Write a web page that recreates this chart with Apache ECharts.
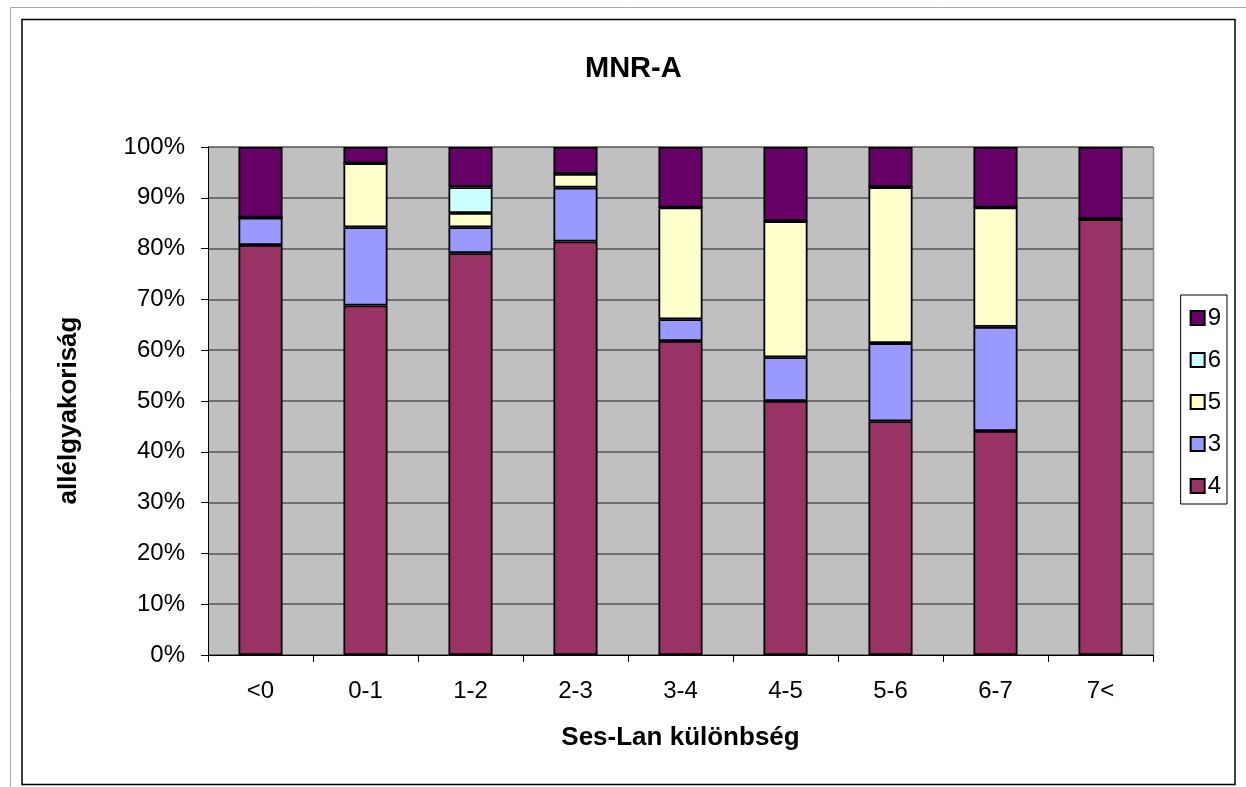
<!DOCTYPE html>
<html><head><meta charset="utf-8">
<script src="https://cdn.jsdelivr.net/npm/echarts@6/dist/echarts.min.js"></script>
<style>html,body{margin:0;padding:0;background:#fff}#c{width:1246px;height:787px}</style>
</head><body><div id="c"></div>
<script>
var categories = ['<0','0-1','1-2','2-3','3-4','4-5','5-6','6-7','7<'];
var s4 = [80.7, 68.8, 79.1, 81.4, 61.8, 50.0, 46.0, 44.1, 85.8];
var s3 = [5.4, 15.4, 5.1, 10.6, 4.3, 8.6, 15.4, 20.5, 0];
var s5 = [0, 12.6, 2.8, 2.7, 22.0, 26.8, 30.7, 23.5, 0];
var s6 = [0, 0, 5.1, 0, 0, 0, 0, 0, 0];
var s9 = [13.9, 3.2, 7.9, 5.3, 11.9, 14.6, 7.9, 11.9, 14.2];
var yTicks = [0,10,20,30,40,50,60,70,80,90,100];

var font = 'Liberation Sans, Arial, sans-serif';
function ser(name, data, color){
  return {name:name, type:'bar', stack:'a', data:data, barCategoryGap:'58%',
    itemStyle:{color:color, borderColor:'#000', borderWidth:1.8}};
}
var chart = echarts.init(document.getElementById('c'));
chart.setOption({
  animation:false,
  title:{text:'MNR-A', left:580, top:49,
    textStyle:{fontFamily:font, fontSize:29, fontWeight:'bold', color:'#000'}},
  grid:{left:208, right:93, top:147, bottom:132, show:true, backgroundColor:'#C0C0C0', borderWidth:0},
  legend:{orient:'vertical', right:19, top:295, data:['9','6','5','3','4'],
    icon:'rect', itemWidth:14, itemHeight:14, itemGap:18, padding:[11,6,6,9],
    borderColor:'#000', borderWidth:1, backgroundColor:'#fff',
    textStyle:{fontFamily:font, fontSize:24, color:'#000', padding:[0,0,0,-2]}},
  xAxis:{type:'category', data:categories,
    name:'Ses-Lan különbség', nameLocation:'middle', nameGap:70,
    nameTextStyle:{fontFamily:font, fontSize:26, fontWeight:'bold', color:'#000'},
    axisLine:{lineStyle:{color:'#000', width:1}},
    axisTick:{show:true, length:7, lineStyle:{color:'#000'}},
    axisLabel:{fontFamily:font, fontSize:24, color:'#000', margin:24},
    splitLine:{show:false}},
  yAxis:{type:'value', min:0, max:100, interval:10,
    name:'allélgyakoriság', nameLocation:'middle', nameGap:126,
    nameTextStyle:{fontFamily:font, fontSize:26, fontWeight:'bold', color:'#000', padding:[0,19,0,0]},
    axisLine:{show:true, lineStyle:{color:'#000', width:1}},
    axisTick:{show:true, length:7, lineStyle:{color:'#000'}},
    axisLabel:{fontFamily:font, fontSize:24, color:'#000', margin:23,
      formatter:function(v){return yTicks.indexOf(v)>=0 ? v+'%' : '';}},
    splitLine:{show:true, lineStyle:{color:'#555', width:1.5}}},
  graphic:[
    {type:'rect', shape:{x:10.5, y:7.5, width:1240, height:790}, style:{fill:'none', stroke:'#aaa', lineWidth:1}, silent:true},
    {type:'rect', shape:{x:22, y:19.5, width:1213, height:765}, style:{fill:'none', stroke:'#000', lineWidth:1.5}, silent:true},
    {type:'line', shape:{x1:1153.5, y1:147, x2:1153.5, y2:655}, style:{stroke:'#888', lineWidth:1.5}, silent:true}
  ],
  series:[ser('4',s4,'#993366'), ser('3',s3,'#9999FF'), ser('5',s5,'#FFFFCC'), ser('6',s6,'#CCFFFF'), ser('9',s9,'#660066')]
});
</script></body></html>
